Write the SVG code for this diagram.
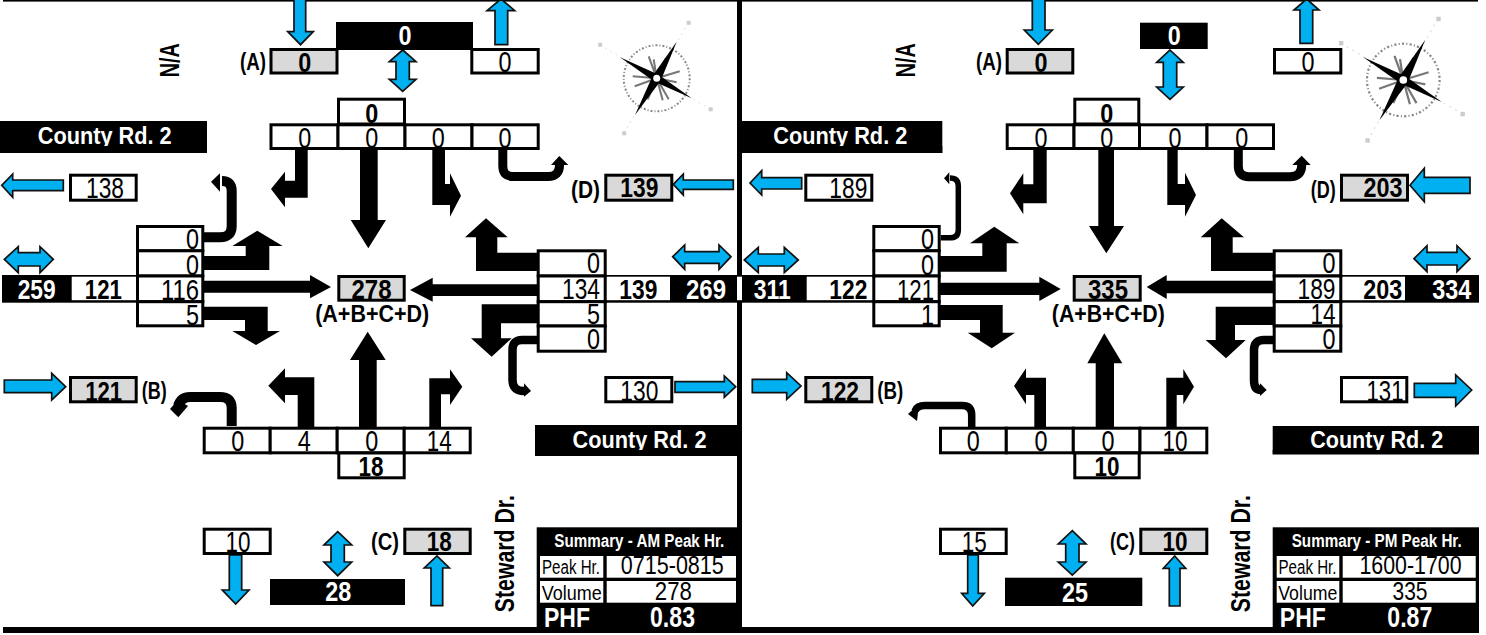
<svg xmlns="http://www.w3.org/2000/svg" xmlns:xlink="http://www.w3.org/1999/xlink" width="1486" height="635" viewBox="0 0 1486 635">
<style>
text{font-family:"Liberation Sans",Arial,sans-serif}
.r{fill:#fff;stroke:#000;stroke-width:3}
.g{fill:#d9d9d9;stroke:#000;stroke-width:3}
.k{fill:#000}
.f{fill:#fff}
.t{font-size:30px;fill:#000;text-anchor:middle}
.e{font-size:30px;fill:#000;text-anchor:end}
.b{font-size:28px;font-weight:700;fill:#000;text-anchor:middle}
.w{font-size:28px;font-weight:700;fill:#fff;text-anchor:middle}
.l{font-size:23px;font-weight:700;fill:#000;text-anchor:middle}
.c{font-size:24px;font-weight:700;fill:#fff;text-anchor:middle}
.s{font-size:18px;font-weight:700;fill:#fff;text-anchor:middle}
.h{font-size:20px;fill:#000;text-anchor:middle}
.v{font-size:25px;fill:#000;text-anchor:middle}
.p{font-size:29px;font-weight:700;fill:#fff;text-anchor:middle}
.y{fill:#00b0f0;stroke:#111;stroke-width:1.7}
.a{fill:#000}
.u{fill:none;stroke:#000}
</style>
<defs>
<filter id="soft" x="-10%" y="-10%" width="120%" height="120%"><feGaussianBlur stdDeviation="0.5"/></filter>
<g id="compass" filter="url(#soft)">
<path d="M-56.7,-33.3L54,31M31.6,-55.6L-32.7,55" stroke="#ddd" stroke-width="1" stroke-dasharray="2 4" fill="none"/>
<circle r="33" fill="none" stroke="#888" stroke-width="2" stroke-dasharray="2 2 1 2"/>
<path d="M0,0L-8,-22M0,0L-3,-19M0,0L9,-20M0,0L23,-7M0,0L20,4M0,0L12,21M0,0L6,22M0,0L-9,21M0,0L-22,8M0,0L-24,-2" stroke="#777" stroke-width="2" fill="none"/>
<polygon class="k" points="20,-36.6 4,2.5 -21.7,36.7 -4,-2.5"/>
<polygon class="k" points="-36.7,-21 2,-3.5 35,20 -2,3.5"/>
<circle r="3.5" fill="#fff"/>
<rect x="30" y="-57.5" width="4" height="4" fill="#ccc"/><rect x="-58.5" y="-35.5" width="4" height="4" fill="#ccc"/><rect x="52" y="29" width="4" height="4" fill="#ccc"/><rect x="-34.5" y="53" width="4" height="4" fill="#ccc"/>
</g>
</defs>

<rect id="top-line" x="3" y="0" width="1475" height="1.6" fill="#000"/>
<rect id="divider" x="737" y="0" width="5" height="630" fill="#000"/>

<g id="connectors">
<polygon class="a" points="295,149 307.7,149 307.7,197.7 285,197.7 285,207.3 271,189 285,171.7 285,180.7 295,180.7"/>
<polygon class="a" points="360,149 377.7,149 377.7,220 386,220 368.3,248.3 350.7,220 360,220"/>
<polygon class="a" points="432.3,149 445,149 445,184 450,184 450,173.3 461,195.7 450,216.7 450,205 432.3,205"/>
<path class="u" stroke-width="9" d="M502.8,149V166Q502.8,176.5 513,176.5H548Q559.5,176.5 559.5,165"/>
<polygon class="a" points="551,165 568.3,165 559.3,156"/>
<path class="u" stroke-width="10" d="M204,237.3H220Q231.7,237.3 231.7,226V191Q231.7,181 222,181"/>
<polygon class="a" points="220,173.3 211,181.7 220,191.7"/>
<polygon class="a" points="204,256 245.7,256 245.7,246 232.3,246 257.3,230.7 282.7,246 269.3,246 269.3,270 204,270"/>
<polygon class="a" points="204,280.7 310,280.7 310,275 331,287 310,298.3 310,292.7 204,292.7"/>
<polygon class="a" points="204,306.7 267.7,306.7 267.7,331 280,331 256,345 232.3,331 245,331 245,320 204,320"/>
<polygon class="a" points="537,252.7 497.3,252.7 497.3,237.3 507.7,237.3 486,218.3 465,237.3 476,237.3 476,271 537,271"/>
<polygon class="a" points="537,284.3 432.7,284.3 432.7,277.7 410,290 432.7,301.7 432.7,296 537,296"/>
<polygon class="a" points="537,304.3 481.7,304.3 481.7,338.3 471,338.3 491.7,356.7 511.7,338.3 501,338.3 501,323.3 537,323.3"/>
<path class="u" stroke-width="8.5" d="M537,340H522Q512.5,340 512.5,350V380Q512.5,391 524,391"/>
<polygon class="a" points="524,383.3 531,391 524,396.7"/>
<path class="u" stroke-width="10" d="M231.7,426V408Q231.7,397 220,397H190Q181,397 178,406"/>
<polygon class="a" points="170,409 178.3,417.3 188,406 178,400"/>
<polygon class="a" points="297.7,427 314.3,427 314.3,377.3 285,377.3 285,368.3 268.3,385.7 285,403.3 285,395 297.7,395"/>
<polygon class="a" points="359,427 376.7,427 376.7,360 385.7,360 367.7,331.7 350,360 359,360"/>
<polygon class="a" points="429.3,427 441,427 441,394.3 450,394.3 450,405 462.3,386.7 450,369.3 450,378.3 429.3,378.3"/>
<polygon class="a" points="1033.3,149 1046.7,149 1046.7,203.3 1023.3,203.3 1023.3,214.3 1010,193.3 1023.3,173.3 1023.3,184.3 1033.3,184.3"/>
<polygon class="a" points="1098.3,149 1114,149 1114,226 1124,226 1106.3,253.3 1089,226 1098.3,226"/>
<polygon class="a" points="1167.3,149 1177.7,149 1177.7,184 1185,184 1185,172.7 1196,195 1185,216.7 1185,205 1167.3,205"/>
<path class="u" stroke-width="9" d="M1238.3,149V166Q1238.3,176.7 1249,176.7H1290Q1301.7,176.7 1301.7,165"/>
<polygon class="a" points="1292.3,165 1310.7,165 1301.7,155.7"/>
<path class="u" stroke-width="5.5" d="M940.7,237.8H950Q958.3,237.8 958.3,230V186Q958.3,178 950,178"/>
<polygon class="a" points="949.3,172.3 944,178.3 949.3,184.3"/>
<polygon class="a" points="940,256 982.3,256 982.3,243.3 970,243.3 994.3,226.7 1019.3,243.3 1006.7,243.3 1006.7,271.7 940,271.7"/>
<polygon class="a" points="940,282.7 1039.3,282.7 1039.3,276.7 1060.7,289 1039.3,301 1039.3,295 940,295"/>
<polygon class="a" points="940,305 1002.7,305 1002.7,332.7 1015,332.7 991.7,348.3 967.7,332.7 980,332.7 980,320 940,320"/>
<polygon class="a" points="1273,252.7 1232.7,252.7 1232.7,237.3 1244,237.3 1221.7,218.3 1200.7,237.3 1211,237.3 1211,271 1273,271"/>
<polygon class="a" points="1273,280.7 1166.7,280.7 1166.7,275 1146.7,287 1166.7,299 1166.7,293.3 1273,293.3"/>
<polygon class="a" points="1273,306.7 1215.7,306.7 1215.7,340 1205.7,340 1226,358.3 1245.7,340 1235,340 1235,325 1273,325"/>
<path class="u" stroke-width="8.5" d="M1273,340H1264Q1254,340 1254,350V380Q1254,390 1261,390"/>
<polygon class="a" points="1260,383.3 1266.7,390 1260,396"/>
<path class="u" stroke-width="7.5" d="M971.7,427V415Q971.7,405.5 962,405.5H925Q917,405.5 915,411"/>
<polygon class="a" points="919,404 908,414 917,421"/>
<polygon class="a" points="1034.3,427 1046,427 1046,377.7 1026,377.7 1026,368.3 1014,386 1026,404.3 1026,395 1034.3,395"/>
<polygon class="a" points="1095.7,427 1114,427 1114,363.3 1122.3,363.3 1104.3,333.3 1087.3,363.3 1095.7,363.3"/>
<polygon class="a" points="1166.3,427 1176.7,427 1176.7,395 1183.3,395 1183.3,404.3 1194,386.7 1183.3,369 1183.3,377.7 1166.3,377.7"/>
<polygon class="y" points="294,-2 305.7,-2 305.7,31.7 313.3,31.7 300.5,44.7 287.7,31.7 294,31.7"/>
<polygon class="y" points="495,44.7 507.7,44.7 507.7,10.7 514.7,10.7 501,-1 487,10.7 495,10.7"/>
<polygon class="y" points="402.7,50 416,61.7 409.3,61.7 409.3,79.3 416,79.3 402.7,91.3 389.3,79.3 396,79.3 396,61.7 389.3,61.7"/>
<polygon class="y" points="1.7,185.3 12.7,174 12.7,180 63.3,180 63.3,190.7 12.7,190.7 12.7,197.3"/>
<polygon class="y" points="673.3,184.3 683.3,174 683.3,180 733.3,180 733.3,189.3 683.3,189.3 683.3,195"/>
<polygon class="y" points="4.3,259.3 18.3,246.7 18.3,252.7 40,252.7 40,246.7 53.3,259.3 40,272.7 40,266 18.3,266 18.3,272.7"/>
<polygon class="y" points="672.7,256.7 684.7,245 684.7,251.7 719,251.7 719,245 731,256.7 719,269.3 719,263.3 684.7,263.3 684.7,269.3"/>
<polygon class="y" points="4.3,380 51.7,380 51.7,373.3 65.7,386.7 51.7,400 51.7,392.7 4.3,392.7"/>
<polygon class="y" points="675,381.7 724.3,381.7 724.3,376 735.7,386.7 724.3,397.3 724.3,392.3 675,392.3"/>
<polygon class="y" points="229.3,555 241.7,555 241.7,590 249,590 235.7,604 222.3,590 229.3,590"/>
<polygon class="y" points="337.7,531.7 351.7,545 344.3,545 344.3,562 351.7,562 337.7,575.7 324,562 331,562 331,545 324,545"/>
<polygon class="y" points="431,605.7 442.7,605.7 442.7,568 449.3,568 437,556 424.3,568 431,568"/>
<polygon class="y" points="1032.3,-2 1045,-2 1045,30 1052.3,30 1038.3,44.3 1024.3,30 1032.3,30"/>
<polygon class="y" points="1300,43.3 1312.7,43.3 1312.7,10 1319,10 1306.7,-1 1294,10 1300,10"/>
<polygon class="y" points="1170,50 1183.3,62.3 1176.7,62.3 1176.7,87 1183.3,87 1170,99.3 1156.7,87 1163.3,87 1163.3,62.3 1156.7,62.3"/>
<polygon class="y" points="750,183 761.7,170.7 761.7,177.7 801.7,177.7 801.7,189 761.7,189 761.7,195"/>
<polygon class="y" points="1410,185.3 1424.3,168.3 1424.3,177.3 1470,177.3 1470,193.3 1424.3,193.3 1424.3,201.7"/>
<polygon class="y" points="744.3,260 758.3,247.3 758.3,254 784.3,254 784.3,247.3 798.3,260 784.3,272.7 784.3,266 758.3,266 758.3,272.7"/>
<polygon class="y" points="1414,258.7 1427,245.7 1427,252.3 1457,252.3 1457,245.7 1470,258.7 1457,271.7 1457,265 1427,265 1427,271.7"/>
<polygon class="y" points="752.3,379.3 786.7,379.3 786.7,372.7 801,386 786.7,399.3 786.7,392.7 752.3,392.7"/>
<polygon class="y" points="1414.3,383.3 1455.7,383.3 1455.7,375 1471.7,390 1455.7,406 1455.7,397.3 1414.3,397.3"/>
<polygon class="y" points="967.7,555 978.3,555 978.3,593.3 984.3,593.3 972.7,606 961.7,593.3 967.7,593.3"/>
<polygon class="y" points="1072.3,530.7 1086,544 1079,544 1079,562 1086,562 1072.3,575 1058.3,562 1065.7,562 1065.7,544 1058.3,544"/>
<polygon class="y" points="1169.3,606 1180,606 1180,568.3 1185.7,568.3 1174.7,556 1163.3,568.3 1169.3,568.3"/>
</g>

<g id="am-road-north"><text class="b" transform="translate(179,60.3) rotate(-90)" textLength="34" lengthAdjust="spacingAndGlyphs">N/A</text></g>
<g id="am-a"><text class="l" x="253" y="70" textLength="26" lengthAdjust="spacingAndGlyphs">(A)</text><rect class="g" x="271" y="49.5" width="66" height="23.5"/><text class="b" x="304.7" y="71.5" textLength="13" lengthAdjust="spacingAndGlyphs">0</text></g>
<g id="am-north-total"><rect class="k" x="336" y="22" width="137" height="28"/><text class="w" x="405" y="45" textLength="13" lengthAdjust="spacingAndGlyphs">0</text></g>
<g id="am-north-out"><rect class="r" x="471.8" y="49.5" width="66.4" height="23.5"/><text class="t" x="505" y="72" textLength="13" lengthAdjust="spacingAndGlyphs">0</text></g>
<g id="am-north-peds"><rect class="r" x="338.5" y="99.2" width="66" height="24.8"/><text class="b" x="371.7" y="122.7" textLength="13" lengthAdjust="spacingAndGlyphs">0</text></g>
<g id="am-north-cells">
<rect class="r" x="271" y="124.8" width="67" height="23.7"/><rect class="r" x="338" y="124.8" width="67" height="23.7"/><rect class="r" x="405" y="124.8" width="67" height="23.7"/><rect class="r" x="472" y="124.8" width="66.2" height="23.7"/>
<text class="t" x="304.7" y="148.3" textLength="13" lengthAdjust="spacingAndGlyphs">0</text><text class="t" x="371.7" y="148.3" textLength="13" lengthAdjust="spacingAndGlyphs">0</text><text class="t" x="438.3" y="148.3" textLength="13" lengthAdjust="spacingAndGlyphs">0</text><text class="t" x="505" y="148.3" textLength="13" lengthAdjust="spacingAndGlyphs">0</text>
</g>
<g id="am-west-name"><rect class="k" x="0" y="121" width="207" height="32"/><text class="c" x="104.7" y="144.3" textLength="134" lengthAdjust="spacingAndGlyphs">County Rd. 2</text><rect class="k" x="0" y="146" width="207" height="7"/></g>
<g id="am-west-out"><rect class="r" x="70.5" y="175.2" width="65.7" height="25"/><text class="t" x="105" y="198.3" textLength="38" lengthAdjust="spacingAndGlyphs">138</text></g>
<g id="am-west-road"><rect class="k" x="2" y="275" width="136" height="27.7"/><rect class="f" x="71.7" y="276.7" width="66" height="23.5"/><text class="w" x="36.7" y="299.3" textLength="38" lengthAdjust="spacingAndGlyphs">259</text><text class="b" x="103.3" y="299.3" textLength="37" lengthAdjust="spacingAndGlyphs">121</text></g>
<g id="am-west-cells">
<rect class="r" x="137.5" y="226.5" width="65.3" height="24.3"/><rect class="r" x="137.5" y="250.8" width="65.3" height="25.2"/><rect class="r" x="137.5" y="276" width="65.3" height="25.7"/><rect class="r" x="137.5" y="301.7" width="65.3" height="24.1"/>
<text class="e" x="199" y="249" textLength="13" lengthAdjust="spacingAndGlyphs">0</text><text class="e" x="199" y="275" textLength="13" lengthAdjust="spacingAndGlyphs">0</text><text class="e" x="199" y="300" textLength="38" lengthAdjust="spacingAndGlyphs">116</text><text class="e" x="199" y="325" textLength="13" lengthAdjust="spacingAndGlyphs">5</text>
</g>
<g id="am-b"><rect class="g" x="70.5" y="377.5" width="65.7" height="24.3"/><text class="b" x="103.7" y="401" textLength="37" lengthAdjust="spacingAndGlyphs">121</text><text class="l" x="154.2" y="399" textLength="25" lengthAdjust="spacingAndGlyphs">(B)</text></g>
<g id="am-total"><rect class="g" x="338.8" y="276.5" width="65.4" height="23.7"/><text class="b" x="371.5" y="299.3" textLength="40" lengthAdjust="spacingAndGlyphs">278</text><text class="l" x="372.2" y="322" textLength="114" lengthAdjust="spacingAndGlyphs">(A+B+C+D)</text></g>
<g id="am-d"><text class="l" x="585.5" y="198" textLength="29" lengthAdjust="spacingAndGlyphs">(D)</text><rect class="g" x="605.8" y="175.2" width="66" height="25"/><text class="b" x="639.3" y="197.3" textLength="38" lengthAdjust="spacingAndGlyphs">139</text></g>
<g id="am-east-road"><rect class="k" x="606" y="275" width="136" height="27.7"/><rect class="f" x="606" y="276.7" width="64" height="23.5"/><text class="b" x="638.3" y="299.3" textLength="38" lengthAdjust="spacingAndGlyphs">139</text><text class="w" x="706" y="299.3" textLength="40" lengthAdjust="spacingAndGlyphs">269</text><rect class="f" x="737" y="276.7" width="5" height="23.5"/></g>
<g id="am-east-cells">
<rect class="r" x="538.2" y="250.8" width="67" height="25.2"/><rect class="r" x="538.2" y="276" width="67" height="25.7"/><rect class="r" x="538.2" y="301.7" width="67" height="24.3"/><rect class="r" x="538.2" y="326" width="67" height="25.2"/>
<text class="e" x="600" y="273.3" textLength="13" lengthAdjust="spacingAndGlyphs">0</text><text class="e" x="600" y="299.3" textLength="38" lengthAdjust="spacingAndGlyphs">134</text><text class="e" x="600" y="324" textLength="13" lengthAdjust="spacingAndGlyphs">5</text><text class="e" x="600" y="349.3" textLength="13" lengthAdjust="spacingAndGlyphs">0</text>
</g>
<g id="am-east-out"><rect class="r" x="605.8" y="377.5" width="66" height="24.3"/><text class="t" x="639.3" y="401" textLength="38" lengthAdjust="spacingAndGlyphs">130</text></g>
<g id="am-east-name"><rect class="k" x="535" y="425" width="202" height="31"/><text class="c" x="639.5" y="448.3" textLength="134" lengthAdjust="spacingAndGlyphs">County Rd. 2</text><rect class="k" x="535" y="450" width="202" height="6"/></g>
<g id="am-south-cells">
<rect class="r" x="204.2" y="428.2" width="66" height="24.6"/><rect class="r" x="270.2" y="428.2" width="67" height="24.6"/><rect class="r" x="337.2" y="428.2" width="67" height="24.6"/><rect class="r" x="404.2" y="428.2" width="66" height="24.6"/>
<text class="t" x="237.7" y="451" textLength="13" lengthAdjust="spacingAndGlyphs">0</text><text class="t" x="304.3" y="451" textLength="13" lengthAdjust="spacingAndGlyphs">4</text><text class="t" x="371.7" y="451" textLength="13" lengthAdjust="spacingAndGlyphs">0</text><text class="t" x="439.3" y="451" textLength="25" lengthAdjust="spacingAndGlyphs">14</text>
</g>
<g id="am-south-peds"><rect class="r" x="338.8" y="453" width="65.4" height="24.8"/><text class="b" x="371" y="475.7" textLength="25" lengthAdjust="spacingAndGlyphs">18</text></g>
<g id="am-south-out"><rect class="r" x="204.2" y="529.2" width="66" height="24.3"/><text class="t" x="238" y="552.3" textLength="25" lengthAdjust="spacingAndGlyphs">10</text></g>
<g id="am-south-total"><rect class="k" x="270" y="579" width="135" height="26"/><text class="w" x="338.3" y="601" textLength="26" lengthAdjust="spacingAndGlyphs">28</text></g>
<g id="am-c"><text class="l" x="385" y="550" textLength="28" lengthAdjust="spacingAndGlyphs">(C)</text><rect class="g" x="404.8" y="529.2" width="65.4" height="24.3"/><text class="b" x="439.3" y="551" textLength="25" lengthAdjust="spacingAndGlyphs">18</text></g>
<g id="am-road-south"><text class="b" transform="translate(514.3,553.7) rotate(-90)" textLength="117" lengthAdjust="spacingAndGlyphs">Steward Dr.</text></g>
<g id="am-summary">
<rect class="k" x="536.7" y="527.3" width="201" height="100"/>
<rect class="f" x="540" y="556" width="63.3" height="21.7"/><rect class="f" x="606.7" y="556" width="129.3" height="21.7"/><rect class="f" x="540" y="581" width="63.3" height="21.7"/><rect class="f" x="606.7" y="581" width="129.3" height="21.7"/>
<text class="s" x="639.3" y="546.7" textLength="170" lengthAdjust="spacingAndGlyphs">Summary - AM Peak Hr.</text>
<text class="h" x="571" y="574.3" textLength="58" lengthAdjust="spacingAndGlyphs">Peak Hr.</text><text class="v" x="672.3" y="574.3" textLength="103" lengthAdjust="spacingAndGlyphs">0715-0815</text>
<text class="h" x="571.8" y="600" textLength="60" lengthAdjust="spacingAndGlyphs">Volume</text><text class="v" x="673.3" y="600" textLength="37" lengthAdjust="spacingAndGlyphs">278</text>
<text class="p" x="567" y="628" textLength="46" lengthAdjust="spacingAndGlyphs">PHF</text><text class="p" x="672.5" y="626.5" textLength="45" lengthAdjust="spacingAndGlyphs">0.83</text>
</g>
<use id="am-compass" xlink:href="#compass" href="#compass" transform="translate(656.7,78.3)"/>

<g id="pm-road-north"><text class="b" transform="translate(915,60.3) rotate(-90)" textLength="34" lengthAdjust="spacingAndGlyphs">N/A</text></g>
<g id="pm-a"><text class="l" x="989" y="70" textLength="26" lengthAdjust="spacingAndGlyphs">(A)</text><rect class="g" x="1007.2" y="49.5" width="65.6" height="23.5"/><text class="b" x="1041" y="71.5" textLength="13" lengthAdjust="spacingAndGlyphs">0</text></g>
<g id="pm-north-total"><rect class="k" x="1140" y="22.7" width="67.7" height="26.3"/><text class="w" x="1174.3" y="45" textLength="13" lengthAdjust="spacingAndGlyphs">0</text></g>
<g id="pm-north-out"><rect class="r" x="1274.5" y="49.5" width="66.3" height="23.5"/><text class="t" x="1308" y="72" textLength="13" lengthAdjust="spacingAndGlyphs">0</text></g>
<g id="pm-north-peds"><rect class="r" x="1074.8" y="99.2" width="64" height="24.8"/><text class="b" x="1106.7" y="122.7" textLength="13" lengthAdjust="spacingAndGlyphs">0</text></g>
<g id="pm-north-cells">
<rect class="r" x="1007.2" y="124.8" width="66.8" height="23.7"/><rect class="r" x="1074" y="124.8" width="65.5" height="23.7"/><rect class="r" x="1139.5" y="124.8" width="67.5" height="23.7"/><rect class="r" x="1207" y="124.8" width="66.5" height="23.7"/>
<text class="t" x="1041" y="148.3" textLength="13" lengthAdjust="spacingAndGlyphs">0</text><text class="t" x="1106.7" y="148.3" textLength="13" lengthAdjust="spacingAndGlyphs">0</text><text class="t" x="1175" y="148.3" textLength="13" lengthAdjust="spacingAndGlyphs">0</text><text class="t" x="1241.7" y="148.3" textLength="13" lengthAdjust="spacingAndGlyphs">0</text>
</g>
<g id="pm-west-name"><rect class="k" x="742" y="121" width="200.3" height="32"/><text class="c" x="840.3" y="144.3" textLength="134" lengthAdjust="spacingAndGlyphs">County Rd. 2</text><rect class="k" x="742" y="146" width="200.3" height="7"/></g>
<g id="pm-west-out"><rect class="r" x="805.8" y="175.2" width="66" height="25"/><text class="t" x="848.3" y="198.3" textLength="38" lengthAdjust="spacingAndGlyphs">189</text></g>
<g id="pm-west-road"><rect class="k" x="742" y="275" width="132" height="27.7"/><rect class="f" x="806.7" y="276.7" width="67" height="23.5"/><text class="w" x="772.3" y="299.3" textLength="37" lengthAdjust="spacingAndGlyphs">311</text><text class="b" x="848.3" y="299.3" textLength="38" lengthAdjust="spacingAndGlyphs">122</text></g>
<g id="pm-west-cells">
<rect class="r" x="873.8" y="226.5" width="65.4" height="24.3"/><rect class="r" x="873.8" y="250.8" width="65.4" height="25.2"/><rect class="r" x="873.8" y="276" width="65.4" height="25.7"/><rect class="r" x="873.8" y="301.7" width="65.4" height="24.1"/>
<text class="e" x="934" y="249" textLength="13" lengthAdjust="spacingAndGlyphs">0</text><text class="e" x="934" y="275" textLength="13" lengthAdjust="spacingAndGlyphs">0</text><text class="e" x="934" y="300" textLength="37" lengthAdjust="spacingAndGlyphs">121</text><text class="e" x="934" y="325" textLength="13" lengthAdjust="spacingAndGlyphs">1</text>
</g>
<g id="pm-b"><rect class="g" x="805.8" y="377.5" width="66" height="24.3"/><text class="b" x="840" y="401" textLength="38" lengthAdjust="spacingAndGlyphs">122</text><text class="l" x="890.3" y="399.3" textLength="26" lengthAdjust="spacingAndGlyphs">(B)</text></g>
<g id="pm-total"><rect class="g" x="1074.2" y="276.5" width="66" height="23.7"/><text class="b" x="1108" y="299.3" textLength="40" lengthAdjust="spacingAndGlyphs">335</text><text class="l" x="1108.3" y="322" textLength="113" lengthAdjust="spacingAndGlyphs">(A+B+C+D)</text></g>
<g id="pm-d"><text class="l" x="1323.3" y="198" textLength="25" lengthAdjust="spacingAndGlyphs">(D)</text><rect class="g" x="1341.5" y="175.2" width="66" height="25"/><text class="b" x="1383" y="197.3" textLength="39" lengthAdjust="spacingAndGlyphs">203</text></g>
<g id="pm-east-road"><rect class="k" x="1342" y="275" width="137" height="27.7"/><rect class="f" x="1342" y="276.7" width="63" height="23.5"/><text class="b" x="1382.7" y="299.3" textLength="39" lengthAdjust="spacingAndGlyphs">203</text><text class="w" x="1451.7" y="299.3" textLength="39" lengthAdjust="spacingAndGlyphs">334</text></g>
<g id="pm-east-cells">
<rect class="r" x="1274.2" y="250.8" width="66.6" height="25.2"/><rect class="r" x="1274.2" y="276" width="66.6" height="25.7"/><rect class="r" x="1274.2" y="301.7" width="66.6" height="24.3"/><rect class="r" x="1274.2" y="326" width="66.6" height="25.2"/>
<text class="e" x="1335.5" y="273.3" textLength="13" lengthAdjust="spacingAndGlyphs">0</text><text class="e" x="1335.5" y="299.3" textLength="38" lengthAdjust="spacingAndGlyphs">189</text><text class="e" x="1335.5" y="324" textLength="25" lengthAdjust="spacingAndGlyphs">14</text><text class="e" x="1335.5" y="349.3" textLength="13" lengthAdjust="spacingAndGlyphs">0</text>
</g>
<g id="pm-east-out"><rect class="r" x="1341.5" y="377.5" width="65.3" height="24.3"/><text class="t" x="1385" y="401" textLength="37" lengthAdjust="spacingAndGlyphs">131</text></g>
<g id="pm-east-name"><rect class="k" x="1272.7" y="426" width="206.3" height="28.3"/><text class="c" x="1376.7" y="448.3" textLength="133" lengthAdjust="spacingAndGlyphs">County Rd. 2</text><rect class="k" x="1272.7" y="450" width="206.3" height="4.3"/></g>
<g id="pm-south-cells">
<rect class="r" x="940.5" y="428.2" width="65.8" height="24.6"/><rect class="r" x="1006.3" y="428.2" width="67" height="24.6"/><rect class="r" x="1073.3" y="428.2" width="66.7" height="24.6"/><rect class="r" x="1140" y="428.2" width="66.8" height="24.6"/>
<text class="t" x="973.3" y="451" textLength="13" lengthAdjust="spacingAndGlyphs">0</text><text class="t" x="1041" y="451" textLength="13" lengthAdjust="spacingAndGlyphs">0</text><text class="t" x="1108" y="451" textLength="13" lengthAdjust="spacingAndGlyphs">0</text><text class="t" x="1175" y="451" textLength="25" lengthAdjust="spacingAndGlyphs">10</text>
</g>
<g id="pm-south-peds"><rect class="r" x="1074.8" y="453" width="64.4" height="24.8"/><text class="b" x="1107" y="475.7" textLength="25" lengthAdjust="spacingAndGlyphs">10</text></g>
<g id="pm-south-out"><rect class="r" x="940.5" y="529.2" width="65.7" height="24.3"/><text class="t" x="974.3" y="552.3" textLength="25" lengthAdjust="spacingAndGlyphs">15</text></g>
<g id="pm-south-total"><rect class="k" x="1005" y="577.7" width="137.3" height="28.3"/><text class="w" x="1075" y="601.7" textLength="26" lengthAdjust="spacingAndGlyphs">25</text></g>
<g id="pm-c"><text class="l" x="1122.5" y="550" textLength="25" lengthAdjust="spacingAndGlyphs">(C)</text><rect class="g" x="1140.8" y="529.2" width="66" height="24.3"/><text class="b" x="1175" y="551" textLength="25" lengthAdjust="spacingAndGlyphs">10</text></g>
<g id="pm-road-south"><text class="b" transform="translate(1250,553.7) rotate(-90)" textLength="117" lengthAdjust="spacingAndGlyphs">Steward Dr.</text></g>
<g id="pm-summary">
<rect class="k" x="1272.7" y="527.3" width="206.3" height="100"/>
<rect class="f" x="1276.7" y="556" width="62.6" height="21.7"/><rect class="f" x="1342.7" y="556" width="133" height="21.7"/><rect class="f" x="1276.7" y="581" width="62.6" height="21.7"/><rect class="f" x="1342.7" y="581" width="133" height="21.7"/>
<text class="s" x="1376.7" y="546.7" textLength="170" lengthAdjust="spacingAndGlyphs">Summary - PM Peak Hr.</text>
<text class="h" x="1307.5" y="574.3" textLength="58" lengthAdjust="spacingAndGlyphs">Peak Hr.</text><text class="v" x="1410.5" y="574.3" textLength="102" lengthAdjust="spacingAndGlyphs">1600-1700</text>
<text class="h" x="1307.8" y="600" textLength="59" lengthAdjust="spacingAndGlyphs">Volume</text><text class="v" x="1410" y="600" textLength="35" lengthAdjust="spacingAndGlyphs">335</text>
<text class="p" x="1302.8" y="628" textLength="46" lengthAdjust="spacingAndGlyphs">PHF</text><text class="p" x="1409.8" y="626.5" textLength="45" lengthAdjust="spacingAndGlyphs">0.87</text>
</g>
<use id="pm-compass" xlink:href="#compass" href="#compass" transform="translate(1403.3,80) scale(1.1)"/>
<rect id="bottom-bar" x="3" y="627" width="1476" height="6" fill="#000"/>
</svg>
